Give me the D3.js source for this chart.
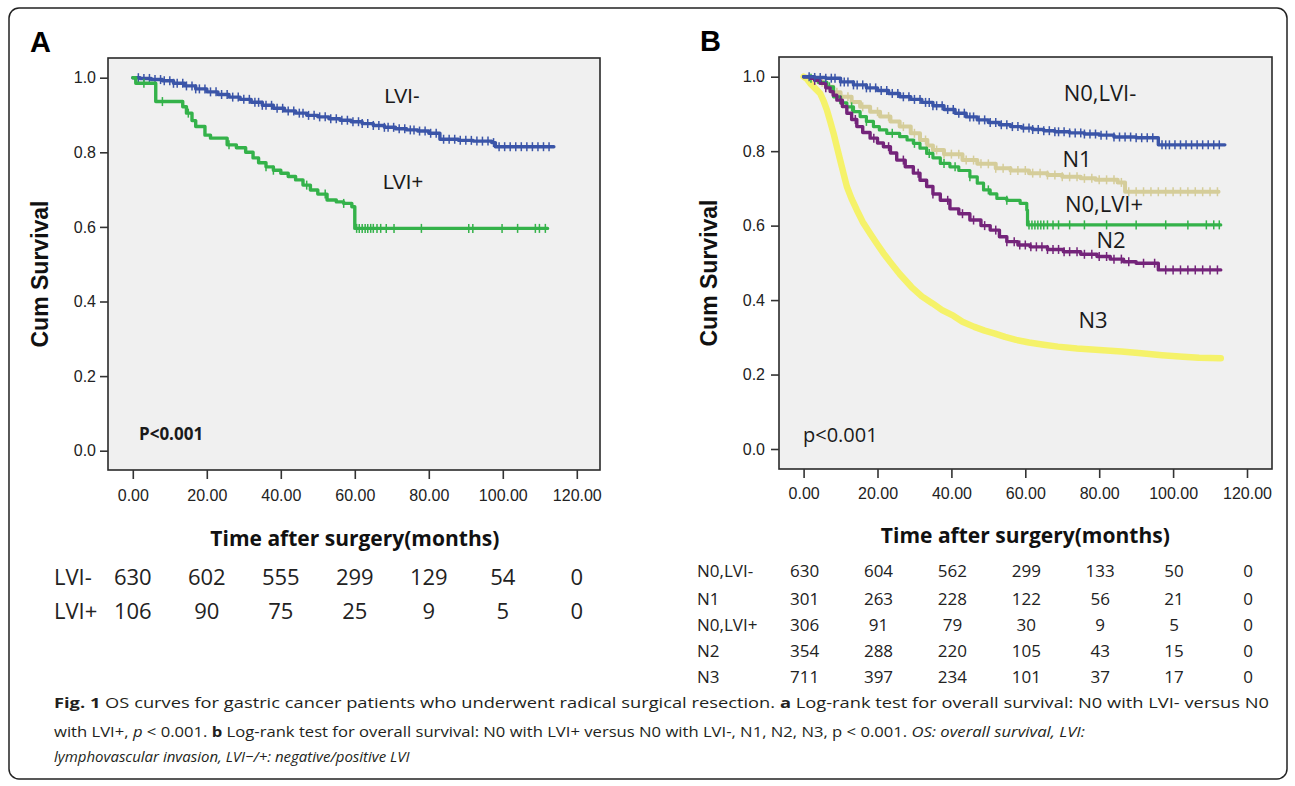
<!DOCTYPE html>
<html>
<head>
<meta charset="utf-8">
<script src="https://cdn.jsdelivr.net/npm/d3@7/dist/d3.min.js"></script>
<style>
    body { margin: 0; background: #fff; }
    svg { display: block; font-family: "Liberation Sans", Arial, sans-serif; }
</style>
</head>
<body>
<div id="chart"></div>
<script>
// ---- data ----
var timeTicks = [0, 20, 40, 60, 80, 100, 120]
var survTicks = [0, 0.2, 0.4, 0.6, 0.8, 1.0]

// panel A : [months, cum survival]
var aLviNeg = [[0,1],[2,0.998],[5,0.995],[8,0.992],[11,0.985],[14,0.978],[17,0.97],[20,0.962],[23,0.955],[26,0.948],[29,0.942],[32,0.934],[35,0.926],[38,0.918],[41,0.911],[44,0.905],[47,0.899],[50,0.895],[53,0.89],[56,0.886],[59,0.882],[62,0.877],[65,0.872],[68,0.867],[71,0.863],[74,0.86],[77,0.857],[80,0.851],[83,0.835],[88,0.832],[92,0.83],[97,0.826],[98,0.815],[113.8,0.815]]
var aLviPos = [[0,1],[0.8,0.985],[6.2,0.936],[13.5,0.922],[14.5,0.905],[16,0.885],[17,0.869],[19.5,0.846],[21,0.838],[25.5,0.82],[28,0.812],[30.5,0.8],[32.5,0.785],[34,0.772],[36,0.761],[38,0.752],[40,0.744],[42,0.735],[44,0.726],[46,0.712],[48,0.699],[50,0.688],[52.5,0.672],[55,0.667],[57,0.663],[59.2,0.654],[60,0.596],[112.1,0.596]]
var aLviNegCens = [1.5,3,4.5,6,7.5,8.5,10,11,12,13.5,14.5,16,17,18,19.5,21,22.5,24,25.5,27,28.5,30,31.5,33,34,35,36,37.5,39,40.5,42,43.5,45,46,47.5,49,50.5,52,53.5,55,56.5,58,59.5,61,62,63.5,65,66.5,68,69,70.5,72,73.5,75,76,77.5,79,80.5,82,84,85.5,87,88.5,90,91.5,93,94.5,96,97.5,99,100.5,102,103.5,105,106.5,108,109.5,111,112.5]
var aLviPosCens = [3,8,15,26,36,38,47,52,57,60.5,61.2,62,62.8,63.5,64.3,65,66,67,68.5,70.6,78,90.8,91.9,99.8,104,108.8,109.9,111.5]

// panel B
var bN0Neg = [[0,1],[3,0.998],[6,0.996],[10,0.986],[13.5,0.978],[17,0.97],[20,0.963],[23,0.955],[26,0.946],[29,0.939],[32,0.931],[35,0.922],[38,0.912],[41,0.902],[44,0.892],[47,0.884],[50,0.877],[53,0.871],[56,0.866],[59,0.862],[62,0.858],[65,0.855],[68,0.852],[72,0.849],[76,0.846],[80,0.843],[84,0.838],[90,0.836],[96,0.817],[114,0.817]]
var bN1 = [[0,1],[2,0.995],[4,0.985],[6,0.973],[8,0.958],[10,0.946],[13,0.932],[15.3,0.919],[18,0.906],[20.7,0.893],[23.5,0.88],[26,0.866],[29,0.848],[31.5,0.83],[33.5,0.815],[35,0.803],[38,0.792],[43,0.776],[47,0.766],[52,0.754],[56,0.748],[61,0.741],[66,0.736],[70,0.731],[75,0.727],[79,0.723],[85,0.716],[87,0.691],[112.3,0.691]]
var bN0Pos = [[0,1],[1.8,0.996],[4,0.985],[6.3,0.973],[8.1,0.946],[10,0.93],[11.7,0.919],[13.5,0.906],[15.3,0.893],[17,0.88],[18.9,0.866],[20.5,0.857],[22.5,0.848],[26,0.839],[28,0.83],[29.7,0.821],[31.5,0.808],[33.3,0.794],[35,0.782],[37,0.767],[39.6,0.758],[42,0.748],[45,0.731],[47,0.714],[48.7,0.696],[50.5,0.685],[52.3,0.673],[55,0.668],[58.6,0.66],[60.4,0.642],[60.6,0.602],[112.9,0.602]]
var bN2 = [[0,1],[1.8,0.996],[3,0.99],[4.5,0.982],[6,0.97],[7.2,0.96],[8,0.95],[9,0.937],[10.5,0.92],[11.7,0.902],[13,0.885],[14.4,0.866],[16,0.85],[18,0.835],[20,0.822],[21.6,0.812],[23.5,0.795],[25.2,0.776],[27.5,0.758],[29.7,0.741],[31.5,0.722],[33.3,0.705],[35,0.685],[37,0.668],[39.6,0.645],[42,0.632],[45,0.615],[48,0.6],[50.5,0.588],[53,0.57],[55,0.557],[58,0.548],[61.3,0.543],[66,0.536],[70.3,0.53],[75,0.523],[79.4,0.517],[83,0.51],[86.6,0.503],[90,0.499],[96,0.481],[112.9,0.481]]
var bN3 = [[0,1],[0.8,0.995],[1.8,0.982],[3,0.97],[4.5,0.955],[5.4,0.935],[6.3,0.911],[7.2,0.88],[8.1,0.848],[9,0.812],[9.9,0.776],[10.8,0.74],[11.7,0.705],[13,0.672],[14.4,0.642],[16,0.61],[18,0.579],[19.8,0.552],[21.6,0.526],[23.6,0.5],[26,0.47],[29.2,0.435],[32,0.41],[34.9,0.391],[37.5,0.373],[40.5,0.358],[43,0.342],[46.2,0.328],[49,0.318],[51.8,0.31],[54.5,0.301],[57.5,0.293],[61,0.286],[65,0.28],[68.8,0.275],[74,0.27],[80,0.266],[86,0.262],[91.4,0.257],[97,0.252],[102.7,0.248],[107,0.245],[112.9,0.244]]
var bN0NegCens = [1.5,3,4.5,6,7.5,8.5,10,11,12,13.5,14.5,16,17,18,19.5,21,22.5,24,25.5,27,28.5,30,31.5,33,34,35,36,37.5,39,40.5,42,43.5,45,46,47.5,49,50.5,52,53.5,55,56.5,58,59.5,61,62,63.5,65,66.5,68,69,70.5,72,73.5,75,76,77.5,79,80.5,82,84,85.5,87,88.5,90,91.5,93,94.5,97,98,99,100.5,102,103.5,105,106.5,108,109.5,111,112.5]
var bN1Cens = [5,9,12,16,20,23,27,30,33,36,38,40,42,44,46,48,50,52,54,56,58,60,62,64,66,68,70,72,74,76,78,80,82,84,86,88,90,92,94,96,98,100,102,104,106,108,110,112]
var bN0PosCens = [2,7,13,17,24,30,34,38,41,45,50,55,61,61.8,62.6,63.4,64.2,65,66,67.5,69,72,76,82,90,98,104,109,111,112.5]
var bN2Cens = [3,6,10,14,19,23,27,31,35,39,43,46,49,52,55,57,58.5,60,61.5,63,64.5,66,67.5,69,70.5,72,74,76,78,80,82,84,86,88,92,95,98,100,102,104,106,108,110,112]

// numbers at risk
var riskA = ['LVI-', 'LVI+']
var riskLviNeg = [630, 602, 555, 299, 129, 54, 0]
var riskLviPos = [106, 90, 75, 25, 9, 5, 0]
var riskB = ['N0,LVI-', 'N1', 'N0,LVI+', 'N2', 'N3']
var riskN0Neg = [630, 604, 562, 299, 133, 50, 0]
var riskN1 = [301, 263, 228, 122, 56, 21, 0]
var riskN0Pos = [306, 91, 79, 30, 9, 5, 0]
var riskN2 = [354, 288, 220, 105, 43, 15, 0]
var riskN3 = [711, 397, 234, 101, 37, 17, 0]

var blue = '#3b55a8', green = '#34b24a', tan = '#d5cd9a', purple = '#74247a', yellow = '#f5f26a'

var width = 1295, height = 786

var svg = d3.select('#chart')
    .append('svg')
    .attr('width', width)
    .attr('height', height)

// outer rounded box
svg.append('rect')
    .attr('x', 9).attr('y', 8)
    .attr('width', 1278).attr('height', 771)
    .attr('rx', 10)
    .attr('fill', 'none')
    .attr('stroke', '#222')
    .attr('stroke-width', 1.5)

function survAt(data, t) {
    var s = data[0][1]
    for (var i = 0; i < data.length; i++) {
        if (data[i][0] <= t) s = data[i][1]
    }
    return s
}

function drawPanel(p) {

    var g = svg.append('g')

    var x = d3.scaleLinear().domain([0, 120]).range([p.x0, p.x120])
    var y = d3.scaleLinear().domain([0, 1]).range([p.y0, p.y1])

    g.append('rect')
        .attr('x', p.left).attr('y', p.top)
        .attr('width', p.right - p.left).attr('height', p.bottom - p.top)
        .attr('fill', '#f0f0f0')
        .attr('stroke', '#2a2a2a')
        .attr('stroke-width', 1.6)

    var yAxis = g.append('g')
        .attr('transform', 'translate(' + p.left + ',0)')
        .call(d3.axisLeft(y).tickValues(survTicks).tickFormat(d3.format('.1f')).tickSize(8).tickPadding(p.yPad))
    var xAxis = g.append('g')
        .attr('transform', 'translate(0,' + p.bottom + ')')
        .call(d3.axisBottom(x).tickValues(timeTicks).tickFormat(d3.format('.2f')).tickSize(9).tickPadding(p.xPad))

    ;[yAxis, xAxis].forEach(function(a) {
        a.select('.domain').remove()
        a.selectAll('line').attr('stroke', '#333').attr('stroke-width', 1.6)
        a.selectAll('text').attr('font-size', 16).attr('fill', '#222')
            .attr('font-family', '"Liberation Sans", Arial, sans-serif')
    })

    p.series.forEach(function(s) {
        var line = d3.line()
            .curve(s.smooth ? d3.curveLinear : d3.curveStepAfter)
            .x(function(d) { return x(d[0]) })
            .y(function(d) { return y(d[1]) })

        g.append('path')
            .datum(s.data)
            .attr('d', line)
            .attr('fill', 'none')
            .attr('stroke', s.color)
            .attr('stroke-width', s.w)
            .attr('stroke-linejoin', 'round')
            .attr('stroke-linecap', 'round')

        g.append('g')
            .selectAll('line')
            .data(s.cens || [])
            .enter()
            .append('line')
            .attr('x1', function(d) { return x(d) })
            .attr('x2', function(d) { return x(d) })
            .attr('y1', function(d) { return y(survAt(s.data, d)) - 4.5 })
            .attr('y2', function(d) { return y(survAt(s.data, d)) + 4.5 })
            .attr('stroke', s.color)
            .attr('stroke-width', 1.5)
    })

    // in-plot labels
    p.labels.forEach(function(l) {
        g.append('text')
            .attr('x', l.x).attr('y', l.y)
            .attr('text-anchor', 'middle')
            .attr('dominant-baseline', 'central')
            .attr('font-family', p.labelFont)
            .attr('font-size', p.labelSize)
            .attr('fill', '#1a1a1a')
            .text(l.t)
    })

    g.append('text')
        .attr('x', p.pX).attr('y', p.pY)
        .attr('dominant-baseline', 'central')
        .attr('font-family', p.pFont)
        .attr('font-size', p.pSize)
        .attr('font-weight', p.pWeight)
        .attr('fill', '#1a1a1a')
        .text(p.pText)

    // panel letter
    g.append('text')
        .attr('x', p.letterX).attr('y', p.letterY)
        .attr('font-size', 29)
        .attr('font-weight', 'bold')
        .attr('fill', '#000')
        .text(p.letter)

    // axis titles
    g.append('text')
        .attr('transform', 'translate(' + p.yTitleX + ',' + ((p.top + p.bottom) / 2 + 10) + ') rotate(-90)')
        .attr('text-anchor', 'middle')
        .attr('dominant-baseline', 'central')
        .attr('font-size', 23)
        .attr('font-weight', 'bold')
        .attr('fill', '#111')
        .text('Cum Survival')

    g.append('text')
        .attr('x', x(60)).attr('y', p.xTitleY)
        .attr('text-anchor', 'middle')
        .attr('dominant-baseline', 'central')
        .attr('font-family', '"Open Sans", sans-serif')
        .attr('font-size', 21)
        .attr('font-weight', 'bold')
        .attr('fill', '#111')
        .text('Time after surgery(months)')

    // numbers at risk
    p.risk.forEach(function(r, i) {
        var ry = p.riskY[i]
        g.append('text')
            .attr('x', p.riskLabelX).attr('y', ry)
            .attr('dominant-baseline', 'central')
            .attr('font-family', '"Open Sans", sans-serif')
            .attr('font-size', p.riskSize)
            .attr('fill', '#222')
            .text(r.name)
        g.append('g')
            .selectAll('text')
            .data(r.values)
            .enter()
            .append('text')
            .attr('x', function(d, j) { return x(timeTicks[j]) + p.riskShift })
            .attr('y', ry)
            .attr('text-anchor', 'middle')
            .attr('dominant-baseline', 'central')
            .attr('font-family', '"Open Sans", sans-serif')
            .attr('font-size', p.riskSize)
            .attr('fill', '#222')
            .text(function(d) { return d })
    })
}

drawPanel({
    letter: 'A', letterX: 30, letterY: 52,
    left: 108, right: 600, top: 58, bottom: 470,
    x0: 132.8, x120: 576.8, y0: 450.7, y1: 77.7,
    yPad: 4, xPad: 11,
    yTitleX: 40, xTitleY: 538,
    series: [
        { data: aLviNeg, color: blue, w: 3.4, cens: aLviNegCens },
        { data: aLviPos, color: green, w: 3.4, cens: aLviPosCens }
    ],
    labelFont: '"Liberation Sans", Arial, sans-serif', labelSize: 20,
    labels: [{ t: 'LVI-', x: 402, y: 96 }, { t: 'LVI+', x: 403, y: 182 }],
    pText: 'P<0.001', pX: 139, pY: 433, pFont: '"Open Sans", sans-serif', pSize: 17, pWeight: 'bold',
    risk: [{ name: riskA[0], values: riskLviNeg }, { name: riskA[1], values: riskLviPos }],
    riskY: [576, 610], riskLabelX: 54, riskSize: 22, riskShift: 0
})

drawPanel({
    letter: 'B', letterX: 700, letterY: 51,
    left: 779, right: 1272, top: 57, bottom: 469,
    x0: 803.6, x120: 1247, y0: 449, y1: 76.7,
    yPad: 6, xPad: 10,
    yTitleX: 709, xTitleY: 535,
    series: [
        { data: bN3, color: yellow, w: 6.5, smooth: true },
        { data: bN1, color: tan, w: 4, cens: bN1Cens },
        { data: bN0Pos, color: green, w: 3.2, cens: bN0PosCens },
        { data: bN2, color: purple, w: 3.4, cens: bN2Cens },
        { data: bN0Neg, color: blue, w: 3.4, cens: bN0NegCens }
    ],
    labelFont: '"Open Sans", sans-serif', labelSize: 22,
    labels: [{ t: 'N0,LVI-', x: 1100, y: 92 }, { t: 'N1', x: 1077, y: 158 }, { t: 'N0,LVI+', x: 1104, y: 203 },
             { t: 'N2', x: 1111, y: 239 }, { t: 'N3', x: 1093, y: 319 }],
    pText: 'p<0.001', pX: 803, pY: 434, pFont: '"Open Sans", sans-serif', pSize: 20, pWeight: 'normal',
    risk: [{ name: riskB[0], values: riskN0Neg }, { name: riskB[1], values: riskN1 }, { name: riskB[2], values: riskN0Pos },
           { name: riskB[3], values: riskN2 }, { name: riskB[4], values: riskN3 }],
    riskY: [570, 598, 624, 650, 676], riskLabelX: 697, riskSize: 17, riskShift: 1
})

// caption
var cap = svg.append('g')
    .attr('font-family', '"Open Sans", sans-serif')
    .attr('font-size', 15)
    .attr('fill', '#231f20')

var l1 = cap.append('text').attr('x', 54).attr('y', 708)
    .attr('textLength', 1215).attr('lengthAdjust', 'spacingAndGlyphs')
l1.append('tspan').attr('font-weight', 'bold').text('Fig. 1')
l1.append('tspan').text(' OS curves for gastric cancer patients who underwent radical surgical resection. ')
l1.append('tspan').attr('font-weight', 'bold').text('a')
l1.append('tspan').text(' Log-rank test for overall survival: N0 with LVI- versus N0')

var l2 = cap.append('text').attr('x', 54).attr('y', 737)
    .attr('textLength', 1031).attr('lengthAdjust', 'spacingAndGlyphs')
l2.append('tspan').text('with LVI+, ')
l2.append('tspan').attr('font-style', 'italic').text('p')
l2.append('tspan').text(' < 0.001. ')
l2.append('tspan').attr('font-weight', 'bold').text('b')
l2.append('tspan').text(' Log-rank test for overall survival: N0 with LVI+ versus N0 with LVI-, N1, N2, N3, p < 0.001. ')
l2.append('tspan').attr('font-style', 'italic').text('OS: overall survival, LVI:')

cap.append('text').attr('x', 54).attr('y', 762)
    .attr('font-style', 'italic')
    .text('lymphovascular invasion, LVI\u2212/+: negative/positive LVI')
</script>
</body>
</html>
